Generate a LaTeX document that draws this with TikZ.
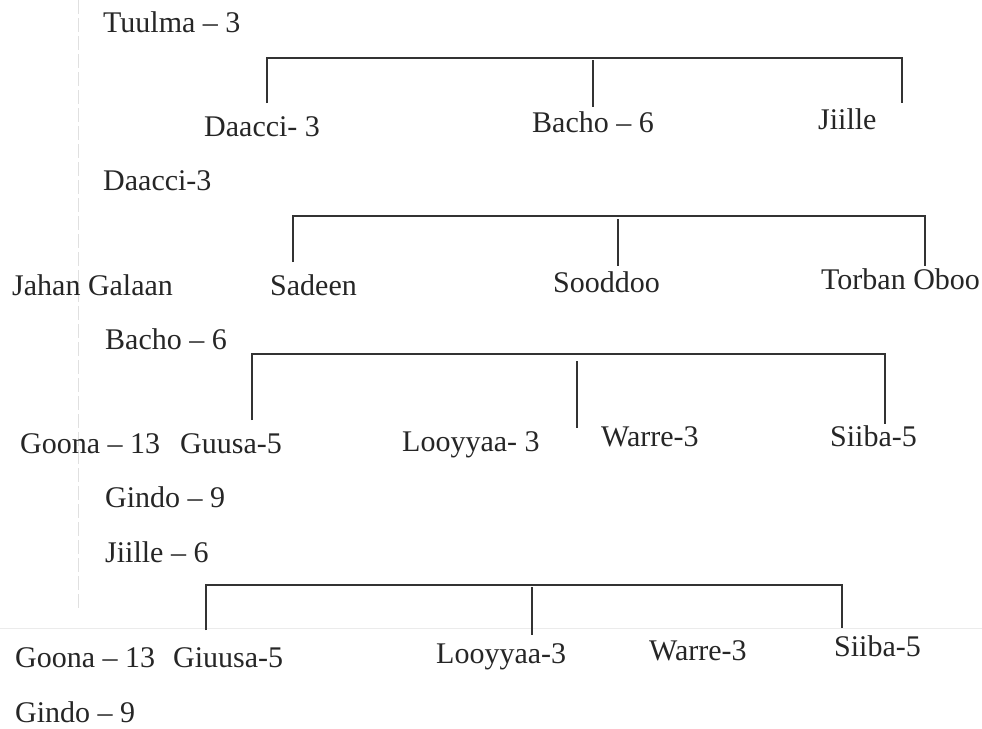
\documentclass[tikz,border=0pt]{standalone}
\usepackage{fontspec}
\setmainfont{Liberation Serif}
\begin{document}
\begin{tikzpicture}[x=1pt,y=-1pt,
  lbl/.style={anchor=base west, inner sep=0pt, text=black!85, font=\fontsize{30}{36}\selectfont},
  link/.style={line width=1.4pt, draw=black!80},
  scan/.style={line width=0.8pt, draw=black!12, dash pattern=on 14pt off 4pt}]
\useasboundingbox[fill=white] (0,0) rectangle (982,728);
% faint scanner marks
\coordinate (s1) at (78,0); \coordinate (s2) at (78,610);
\coordinate (s3) at (0,628); \coordinate (s4) at (982,628);
\draw[scan] (s1) -- (s2);
\draw[draw=black!8, line width=0.6pt] (s3) -- (s4);

% ---- Tuulma block ----
\node[lbl] (tuulma) at (103,32) {Tuulma – 3};
\node[lbl] (daacciA) at (204,136) {Daacci- 3};
\node[lbl] (bachoA) at (532,132) {Bacho – 6};
\node[lbl] (jiilleA) at (818,129) {Jiille};
\coordinate (b1l) at (267,103); \coordinate (b1r) at (902,58); \coordinate (b1rb) at (902,103);
\coordinate (b1mt) at (593,60); \coordinate (b1mb) at (593,107);
\draw[link] (b1l) |- (b1r) -- (b1rb);
\draw[link] (b1mt) -- (b1mb);

% ---- Daacci block ----
\node[lbl] (daacciB) at (103,190) {Daacci-3};
\node[lbl] (jahan) at (12,295) {Jahan Galaan};
\node[lbl] (sadeen) at (270,295) {Sadeen};
\node[lbl] (sooddoo) at (553,292) {Sooddoo};
\node[lbl] (torban) at (821,289) {Torban Oboo};
\coordinate (b2l) at (293,262); \coordinate (b2r) at (925,216); \coordinate (b2rb) at (925,266);
\coordinate (b2mt) at (618,219); \coordinate (b2mb) at (618,266);
\draw[link] (b2l) |- (b2r) -- (b2rb);
\draw[link] (b2mt) -- (b2mb);

% ---- Bacho block ----
\node[lbl] (bachoB) at (105,349) {Bacho – 6};
\node[lbl] (goonaA) at (20,453) {Goona – 13};
\node[lbl] (guusa) at (180,453) {Guusa-5};
\node[lbl] (looyA) at (402,451) {Looyyaa- 3};
\node[lbl] (warreA) at (601,446) {Warre-3};
\node[lbl] (siibaA) at (830,446) {Siiba-5};
\node[lbl] (gindoA) at (105,507) {Gindo – 9};
\coordinate (b3l) at (252,420); \coordinate (b3r) at (885,354); \coordinate (b3rb) at (885,424);
\coordinate (b3mt) at (577,361); \coordinate (b3mb) at (577,428);
\draw[link] (b3l) |- (b3r) -- (b3rb);
\draw[link] (b3mt) -- (b3mb);

% ---- Jiille block ----
\node[lbl] (jiilleB) at (105,562) {Jiille – 6};
\node[lbl] (goonaB) at (15,667) {Goona – 13};
\node[lbl] (giuusa) at (173,667) {Giuusa-5};
\node[lbl] (looyB) at (436,663) {Looyyaa-3};
\node[lbl] (warreB) at (649,660) {Warre-3};
\node[lbl] (siibaB) at (834,656) {Siiba-5};
\node[lbl] (gindoB) at (15,722) {Gindo – 9};
\coordinate (b4l) at (206,630); \coordinate (b4r) at (842,585); \coordinate (b4rb) at (842,628);
\coordinate (b4mt) at (532,587); \coordinate (b4mb) at (532,635);
\draw[link] (b4l) |- (b4r) -- (b4rb);
\draw[link] (b4mt) -- (b4mb);
\end{tikzpicture}
\end{document}
